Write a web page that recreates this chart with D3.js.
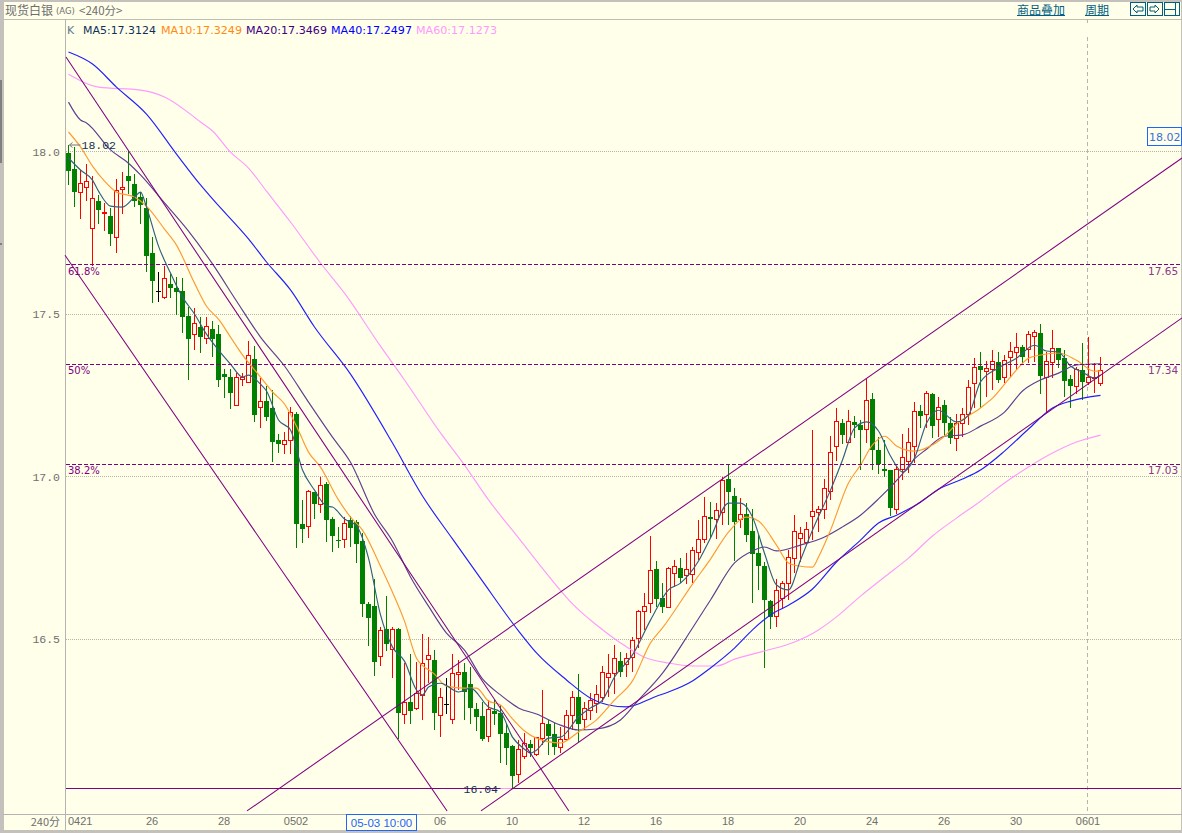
<!DOCTYPE html>
<html><head><meta charset="utf-8">
<script src="https://cdn.jsdelivr.net/npm/d3@7/dist/d3.min.js"></script>
<style>html,body{margin:0;padding:0;background:#ffffea;overflow:hidden}svg{display:block}</style>
</head><body><svg id="c" width="1182" height="833"></svg>
<script>
const highs=[18.020,18.014,17.943,17.962,17.925,17.866,17.842,17.826,17.915,17.937,18.001,17.931,17.875,17.857,17.737,17.629,17.648,17.623,17.614,17.611,17.521,17.518,17.491,17.491,17.478,17.466,17.331,17.331,17.318,17.318,17.417,17.401,17.303,17.278,17.266,17.131,17.137,17.214,17.198,16.928,16.958,16.952,16.998,16.983,16.875,16.845,16.875,16.878,16.866,16.826,16.614,16.684,16.537,16.632,16.537,16.534,16.426,16.454,16.429,16.515,16.506,16.466,16.349,16.380,16.454,16.435,16.426,16.414,16.303,16.306,16.312,16.312,16.297,16.241,16.174,16.189,16.211,16.189,16.198,16.343,16.251,16.241,16.229,16.281,16.340,16.392,16.306,16.334,16.358,16.417,16.454,16.481,16.460,16.457,16.506,16.589,16.641,16.817,16.740,16.672,16.721,16.743,16.749,16.764,16.783,16.866,16.937,16.921,16.918,16.998,17.035,16.964,16.934,16.918,16.900,16.820,16.737,16.620,16.684,16.678,16.774,16.881,16.845,16.860,17.143,16.909,16.992,17.124,17.211,17.177,17.204,17.186,17.174,17.300,17.257,17.121,17.112,17.020,17.032,17.131,17.149,17.229,17.220,17.263,17.257,17.244,17.235,17.183,17.192,17.211,17.297,17.364,17.383,17.355,17.389,17.383,17.374,17.414,17.441,17.404,17.448,17.451,17.469,17.383,17.451,17.395,17.389,17.312,17.337,17.411,17.429,17.349,17.368];
const lows=[17.897,17.829,17.792,17.848,17.648,17.777,17.755,17.709,17.688,17.808,17.869,17.829,17.777,17.629,17.534,17.537,17.546,17.549,17.497,17.441,17.297,17.389,17.380,17.408,17.368,17.275,17.241,17.208,17.220,17.278,17.288,17.168,17.149,17.171,17.044,17.072,17.069,17.069,16.780,16.795,16.811,16.869,16.888,16.798,16.768,16.780,16.780,16.783,16.734,16.568,16.478,16.386,16.417,16.463,16.380,16.192,16.238,16.238,16.281,16.251,16.365,16.220,16.198,16.269,16.238,16.343,16.251,16.238,16.217,16.186,16.183,16.235,16.118,16.112,16.041,16.057,16.131,16.137,16.140,16.174,16.143,16.143,16.149,16.189,16.220,16.183,16.220,16.251,16.272,16.306,16.321,16.331,16.383,16.383,16.398,16.472,16.528,16.580,16.598,16.580,16.598,16.660,16.672,16.669,16.672,16.743,16.795,16.811,16.808,16.851,16.851,16.740,16.841,16.798,16.611,16.651,16.411,16.531,16.537,16.592,16.620,16.703,16.737,16.789,16.804,16.829,16.869,16.928,17.048,17.100,17.103,17.118,17.020,17.103,17.020,17.008,16.998,16.878,16.884,16.989,17.011,17.041,17.149,17.149,17.118,17.121,17.124,17.100,17.078,17.121,17.158,17.211,17.211,17.244,17.266,17.288,17.288,17.306,17.328,17.349,17.349,17.352,17.254,17.195,17.303,17.334,17.244,17.211,17.254,17.235,17.281,17.257,17.278];
const opens=[17.995,17.946,17.875,17.891,17.764,17.848,17.811,17.801,17.737,17.884,17.925,17.900,17.860,17.826,17.688,17.571,17.552,17.592,17.580,17.571,17.494,17.438,17.460,17.426,17.454,17.438,17.315,17.306,17.220,17.300,17.291,17.361,17.214,17.232,17.211,17.112,17.100,17.112,17.192,16.854,16.848,16.952,16.915,16.977,16.869,16.804,16.808,16.866,16.860,16.801,16.608,16.601,16.448,16.531,16.469,16.531,16.269,16.306,16.288,16.328,16.438,16.435,16.266,16.300,16.254,16.392,16.398,16.361,16.284,16.263,16.201,16.278,16.272,16.211,16.171,16.084,16.140,16.177,16.146,16.195,16.238,16.208,16.168,16.192,16.266,16.321,16.254,16.281,16.303,16.321,16.383,16.395,16.432,16.423,16.444,16.503,16.586,16.611,16.715,16.626,16.598,16.703,16.718,16.697,16.700,16.768,16.808,16.875,16.869,16.891,16.992,16.940,16.869,16.884,16.832,16.764,16.724,16.617,16.571,16.626,16.672,16.749,16.811,16.798,16.878,16.891,16.900,16.955,17.094,17.164,17.106,17.168,17.158,17.146,17.238,17.082,17.023,17.020,16.900,17.023,17.048,17.094,17.201,17.192,17.254,17.177,17.220,17.164,17.118,17.164,17.192,17.288,17.340,17.324,17.331,17.352,17.306,17.368,17.383,17.398,17.392,17.432,17.441,17.306,17.352,17.395,17.364,17.300,17.278,17.328,17.291,17.303,17.288];
const closes=[17.940,17.875,17.903,17.909,17.857,17.820,17.814,17.746,17.881,17.891,17.909,17.848,17.835,17.678,17.601,17.571,17.611,17.580,17.568,17.491,17.423,17.472,17.429,17.463,17.423,17.297,17.306,17.257,17.306,17.306,17.374,17.189,17.232,17.183,17.106,17.100,17.112,17.198,16.854,16.838,16.955,16.915,16.974,16.866,16.817,16.801,16.857,16.841,16.792,16.608,16.564,16.429,16.528,16.484,16.531,16.272,16.306,16.278,16.334,16.426,16.451,16.272,16.321,16.300,16.395,16.398,16.337,16.288,16.260,16.192,16.284,16.269,16.208,16.164,16.078,16.161,16.180,16.164,16.198,16.241,16.201,16.168,16.192,16.266,16.321,16.238,16.288,16.312,16.331,16.398,16.395,16.441,16.398,16.441,16.497,16.586,16.601,16.712,16.623,16.598,16.718,16.724,16.688,16.715,16.774,16.808,16.878,16.869,16.897,16.989,16.952,16.860,16.884,16.820,16.761,16.724,16.620,16.568,16.651,16.672,16.752,16.832,16.826,16.838,16.894,16.900,16.964,17.075,17.171,17.128,17.171,17.158,17.143,17.235,17.082,17.038,17.017,16.903,17.023,17.060,17.106,17.201,17.186,17.257,17.155,17.214,17.164,17.118,17.164,17.192,17.275,17.337,17.328,17.334,17.355,17.297,17.358,17.386,17.398,17.368,17.438,17.444,17.309,17.355,17.395,17.358,17.294,17.278,17.331,17.291,17.306,17.306,17.328];

const ma60Idx=[0,5,12,16,22,24,27,30,33,37,42,46,52,56,62,66,70,75,80,84,88,92,96,100,104,108,111,116,121,125,128,132,136,140,144,148,152,156,160,164,168,172];
const ma60=[18.238,18.198,18.189,18.168,18.091,18.063,17.998,17.949,17.878,17.783,17.657,17.564,17.401,17.297,17.134,17.035,16.928,16.811,16.694,16.608,16.543,16.488,16.444,16.426,16.417,16.417,16.438,16.463,16.491,16.528,16.568,16.632,16.691,16.749,16.817,16.872,16.924,16.980,17.029,17.072,17.106,17.1273];
const ma40Idx=[0,4,8,13,18,22,24,30,33,37,41,47,54,59,64,69,75,78,83,87,90,93,98,100,104,107,111,114,117,120,124,128,132,135,138,142,145,149,152,156,160,164,167,172];
const ma40=[18.306,18.269,18.198,18.115,17.992,17.897,17.854,17.731,17.660,17.574,17.460,17.315,17.103,16.940,16.808,16.678,16.525,16.457,16.374,16.318,16.297,16.291,16.324,16.337,16.371,16.411,16.472,16.528,16.574,16.604,16.654,16.737,16.804,16.857,16.881,16.921,16.961,16.992,17.020,17.078,17.146,17.211,17.232,17.2497];
const ma20Idx=[0,2,3,7,10,12,16,20,24,28,32,36,40,44,47,51,54,57,60,63,66,69,72,75,78,82,85,88,92,95,99,104,107,111,114,116,118,122,126,129,132,135,139,141,143,146,149,152,156,159,162,165,168,172];
const ma20=[18.152,18.097,18.088,18.005,17.964,17.928,17.842,17.755,17.654,17.540,17.429,17.340,17.229,17.121,17.044,16.884,16.801,16.691,16.601,16.518,16.466,16.377,16.328,16.288,16.269,16.235,16.220,16.223,16.251,16.312,16.395,16.534,16.620,16.734,16.771,16.783,16.771,16.789,16.814,16.845,16.881,16.931,17.008,17.054,17.084,17.124,17.128,17.155,17.198,17.263,17.297,17.318,17.343,17.3469];
const ma10Idx=[0,2,4,6,8,11,13,16,18,21,23,25,27,29,32,34,36,38,40,42,45,47,49,52,54,56,58,61,63,66,68,70,72,74,76,78,82,85,88,91,94,97,99,104,107,110,113,115,118,120,122,124,125,127,130,132,134,136,138,141,143,146,148,152,154,157,160,162,165,168,171,172];
const ma10=[18.060,18.014,17.955,17.909,17.875,17.860,17.832,17.761,17.712,17.595,17.524,17.484,17.429,17.374,17.306,17.260,17.223,17.155,17.075,17.029,16.928,16.875,16.835,16.724,16.644,16.555,16.441,16.392,16.355,16.349,16.349,16.309,16.297,16.254,16.217,16.195,16.180,16.214,16.251,16.312,16.371,16.488,16.534,16.669,16.746,16.829,16.875,16.863,16.789,16.734,16.724,16.721,16.752,16.835,16.980,17.035,17.097,17.124,17.094,17.078,17.088,17.124,17.161,17.211,17.241,17.306,17.364,17.374,17.380,17.358,17.324,17.3249];
const ma5Idx=[0,2,4,5,7,9,11,12,13,15,17,19,21,23,25,27,29,30,32,33,35,37,39,41,43,44,46,48,50,52,54,56,58,59,60,62,65,67,70,72,74,76,77,78,80,82,85,87,89,91,94,97,100,102,105,107,110,112,114,116,118,120,122,124,127,129,131,133,135,137,139,141,143,145,148,150,152,155,158,161,163,165,167,169,171,172];
const ma5=[17.980,17.943,17.912,17.878,17.832,17.829,17.860,17.875,17.829,17.709,17.626,17.552,17.500,17.438,17.389,17.346,17.306,17.312,17.284,17.263,17.174,17.143,17.020,16.958,16.909,16.906,16.869,16.848,16.749,16.574,16.475,16.432,16.343,16.328,16.352,16.364,16.337,16.349,16.291,16.275,16.198,16.161,16.149,16.158,16.195,16.198,16.260,16.288,16.312,16.383,16.451,16.558,16.651,16.672,16.740,16.811,16.918,16.918,16.875,16.764,16.666,16.651,16.743,16.835,16.958,17.051,17.149,17.168,17.140,17.063,17.014,17.057,17.164,17.204,17.168,17.189,17.291,17.334,17.364,17.404,17.386,17.383,17.340,17.321,17.303,17.3124];

const maNames=["MA5","MA10","MA20","MA40","MA60"];
const maLabels=["17.3124","17.3249","17.3469","17.2497","17.1273"];
const maTextColors=["#12305a","#ff8a14","#400080","#0000ff","#ff99ff"];
const maLineColors=["#2f5f7f","#ff9a30","#5c3f90","#1f1fff","#ff99ff"];

const priceTicks=[18.0,17.5,17.0,16.5];
const timeTickIdx=[0,14,26,38,62,74,86,98,110,122,134,146,158,170];
const timeTickLabels=["0421","26","28","0502","06","10","12","16","18","20","24","26","30","0601"];
const fibValues=[17.652,17.345,17.037];
const fibPct=["61.8%","50%","38.2%"];
const fibRight=["17.65","17.34","17.03"];
const trendFrom=[[-0.42,18.291],[-0.58,17.681],[29.75,15.971],[68.75,15.971]];
const trendTo=[[83.4,15.971],[63.1,15.971],[185.6,17.980],[185.6,17.488]];
const lowPrice=16.04, highPrice=18.02, highIdx=0, lowIdx=74, crossIdx=170, crossLabelIdx=52;

const BG="#ffffea",FRAME="#c4c0bc",PURPLE="#800080",GREY="#6e6e6e",NAVY="#10305a",LINK="#005f85",BLUE="#1a66ff";
const MONO="'Liberation Mono',monospace",SANS="'DejaVu Sans',sans-serif",CJK="'Noto Sans CJK SC',sans-serif";

const svg=d3.select("#c");
const x=d3.scaleLinear().domain([0,172]).range([68.5,1100.5]);
const y=d3.scaleLinear().domain([18,16]).range([151.5,801.5]);
svg.append("rect").attr("width",1182).attr("height",833).attr("fill",BG);

// frame
const chrome=svg.append("g").attr("shape-rendering","crispEdges");
[[0,0,1182,1.5],[0,0,3.5,833],[0,830,1182,3],[1181,0,1,833]].forEach(r=>chrome.append("rect").attr("x",r[0]).attr("y",r[1]).attr("width",r[2]).attr("height",r[3]).attr("fill",FRAME));
chrome.append("rect").attr("x",0).attr("y",80).attr("width",2).attr("height",83).attr("fill","#808080");
chrome.append("rect").attr("x",0).attr("y",243).attr("width",2).attr("height",2).attr("fill","#808080");
chrome.append("line").attr("x1",3).attr("x2",1182).attr("y1",19.5).attr("y2",19.5).attr("stroke","#bdbdb8");
chrome.append("line").attr("x1",3).attr("x2",1182).attr("y1",814.5).attr("y2",814.5).attr("stroke","#b4b4b4");
chrome.append("line").attr("x1",65.5).attr("x2",65.5).attr("y1",19).attr("y2",830).attr("stroke","#b4b4b4");

// grid
const gridG=svg.append("g").attr("shape-rendering","crispEdges");
gridG.selectAll("line").data(priceTicks).join("line")
 .attr("x1",66).attr("x2",1181).attr("y1",d=>Math.floor(y(d))+.5).attr("y2",d=>Math.floor(y(d))+.5)
 .attr("stroke","#b5b5a8").attr("stroke-dasharray","1,1");
[[19,23],[37,814]].forEach(s=>gridG.append("line").attr("x1",Math.floor(x(crossIdx))-.5).attr("x2",Math.floor(x(crossIdx))-.5).attr("y1",s[0]).attr("y2",s[1]).attr("stroke","#b4b4b4").attr("stroke-dasharray","4,3"));

// axes
const ya=svg.append("g").attr("transform","translate(65,0)").call(d3.axisLeft(y).tickValues(priceTicks).tickFormat(d3.format(".1f")).tickSize(0).tickPadding(5));
ya.select(".domain").remove();
ya.selectAll("text").attr("font-family",MONO).attr("font-size",11.5).attr("fill",GREY);
const xa=svg.append("g").attr("transform","translate(0,814)").call(d3.axisBottom(x).tickValues(timeTickIdx).tickFormat((d,i)=>timeTickLabels[i]).tickSize(0).tickPadding(3));
xa.select(".domain").remove();
xa.selectAll("text").attr("font-family","'Liberation Sans',sans-serif").attr("font-size",11).attr("fill",GREY).attr("text-anchor",(d,i)=>i===0?"start":"middle").attr("dx",(d,i)=>i===0?-1:-1);
svg.append("text").attr("x",60).attr("y",826).attr("text-anchor","end").attr("font-family",CJK).attr("font-size",11).attr("fill",GREY).text("240分");

// candles
const idx=d3.range(highs.length);
const candle=svg.append("g").attr("shape-rendering","crispEdges");
const col=i=>closes[i]>opens[i]?"#ff0000":closes[i]<opens[i]?"#008000":"#000000";
candle.selectAll("line.w").data(idx).join("line").attr("class","w")
 .attr("x1",i=>x(i)).attr("x2",i=>x(i)).attr("y1",i=>y(highs[i])).attr("y2",i=>y(lows[i])).attr("stroke",col).attr("stroke-width",1);
candle.selectAll("rect.b").data(idx).join("rect").attr("class","b")
 .attr("x",i=>closes[i]>opens[i]?x(i)-2:x(i)-2.5)
 .attr("width",i=>closes[i]>opens[i]?4:5)
 .attr("y",i=>Math.round(y(Math.max(opens[i],closes[i])))+(closes[i]>opens[i]?.5:0))
 .attr("height",i=>Math.max(1,Math.round(y(Math.min(opens[i],closes[i])))-Math.round(y(Math.max(opens[i],closes[i])))))
 .attr("fill",i=>closes[i]>opens[i]?BG:col(i))
 .attr("stroke",i=>closes[i]>opens[i]?"#ff0000":"none").attr("stroke-width",1);

// moving averages
const lineGen=d3.line().x(d=>x(d[0])).y(d=>y(d[1])).curve(d3.curveMonotoneX);
[[ma60Idx,ma60,4],[ma40Idx,ma40,3],[ma20Idx,ma20,2],[ma10Idx,ma10,1],[ma5Idx,ma5,0]].forEach(([ix,vals,k])=>{
 svg.append("path").datum(ix.map((d,i)=>[d,vals[i]])).attr("d",lineGen).attr("fill","none").attr("stroke",maLineColors[k]).attr("stroke-width",1.15);
});

// trend lines and levels
const ann=svg.append("g");
ann.selectAll("line.t").data(trendFrom).join("line").attr("class","t")
 .attr("x1",d=>x(d[0])).attr("y1",d=>y(d[1])).attr("x2",(d,i)=>x(trendTo[i][0])).attr("y2",(d,i)=>y(trendTo[i][1]))
 .attr("stroke",PURPLE).attr("stroke-width",1.05);
ann.selectAll("line.f").data(fibValues).join("line").attr("class","f")
 .attr("x1",66).attr("x2",1181).attr("y1",d=>Math.floor(y(d))+.5).attr("y2",d=>Math.floor(y(d))+.5)
 .attr("stroke",PURPLE).attr("stroke-dasharray","4,2").attr("shape-rendering","crispEdges");
ann.append("line").attr("x1",66).attr("x2",1181).attr("y1",Math.floor(y(lowPrice))+.5).attr("y2",Math.floor(y(lowPrice))+.5).attr("stroke",PURPLE).attr("shape-rendering","crispEdges");
ann.selectAll("text.p").data(fibValues).join("text").attr("class","p").attr("x",68).attr("y",d=>y(d)+10).attr("font-family",SANS).attr("font-size",10).attr("fill",PURPLE).text((d,i)=>fibPct[i]);
ann.selectAll("text.r").data(fibValues).join("text").attr("class","r").attr("x",1148).attr("y",d=>y(d)+10).attr("font-family",SANS).attr("font-size",10.5).attr("fill","#8a3a8a").text((d,i)=>fibRight[i]);

// extreme markers
const hy=y(highPrice),ly=y(lowPrice);
ann.append("path").attr("d",`M${x(highIdx)+1},${hy} H${x(highIdx)+12} M${x(highIdx)+4},${hy-2.5} L${x(highIdx)+1},${hy} L${x(highIdx)+4},${hy+2.5}`).attr("fill","none").attr("stroke","#777");
ann.append("text").attr("x",x(highIdx)+13).attr("y",hy+4).attr("font-family",MONO).attr("font-size",11.5).attr("fill",NAVY).text(highPrice.toFixed(2));
ann.append("line").attr("x1",x(lowIdx)-12).attr("x2",x(lowIdx)-1).attr("y1",Math.floor(ly)+.5).attr("y2",Math.floor(ly)+.5).attr("stroke","#ff99ff");
ann.append("text").attr("x",x(lowIdx)-49).attr("y",ly+4).attr("font-family",MONO).attr("font-size",11.5).attr("fill",NAVY).text(lowPrice.toFixed(2));

// legend
svg.append("text").attr("x",67).attr("y",33.5).attr("font-family",SANS).attr("font-size",11).attr("fill","#5a7a90").text("K");
const legendX=[83,161,246,331,416],legendW=[73,81,81,81,81];
maNames.forEach((n,i)=>svg.append("text").attr("x",legendX[i]).attr("y",33.5).attr("font-family",SANS).attr("font-size",11)
 .attr("textLength",legendW[i]).attr("lengthAdjust","spacingAndGlyphs").attr("fill",maTextColors[i]).text(n+":"+maLabels[i]));

// title bar
svg.append("text").attr("x",5).attr("y",15).attr("font-family",CJK).attr("font-size",12).attr("fill",GREY).text("现货白银");
svg.append("text").attr("x",56).attr("y",14).attr("font-family",SANS).attr("font-size",8.5).attr("fill",GREY).text("(AG)");
svg.append("text").attr("x",79).attr("y",14.5).attr("font-family",CJK).attr("font-size",11.5).attr("fill",GREY).text("<240分>");
[["商品叠加",1017,48],["周期",1085,24]].forEach(([t,tx,w])=>{
 svg.append("text").attr("x",tx).attr("y",15).attr("font-family",CJK).attr("font-size",12).attr("fill",LINK).text(t);
 chrome.append("line").attr("x1",tx).attr("x2",tx+w).attr("y1",15.5).attr("y2",15.5).attr("stroke",LINK);
});
const icons=svg.append("g").attr("fill","none").attr("stroke",LINK).attr("shape-rendering","crispEdges");
[1130,1147,1164].forEach(b=>icons.append("rect").attr("x",b+.5).attr("y",2.5).attr("width",15).attr("height",13));
svg.append("path").attr("d","M1133,9 L1137,5 V7 H1143 V11 H1137 V13 Z M1159,9 L1155,5 V7 H1150 V11 H1155 V13 Z").attr("fill","none").attr("stroke",LINK);
icons.append("path").attr("d","M1164,9.5 H1175 M1175.5,2 V16");

// value tags
svg.append("rect").attr("x",1147.5).attr("y",127.5).attr("width",34).attr("height",18).attr("fill",BG).attr("stroke",BLUE).attr("shape-rendering","crispEdges");
svg.append("text").attr("x",1149).attr("y",140.5).attr("font-family",SANS).attr("font-size",11).attr("fill","#3a6ee0").text(highPrice.toFixed(2));
const lx=x(crossLabelIdx);
svg.append("rect").attr("x",346.5).attr("y",814.5).attr("width",70).attr("height",16).attr("fill",BG).attr("stroke",BLUE).attr("shape-rendering","crispEdges");
svg.append("text").attr("x",lx+1).attr("y",827).attr("text-anchor","middle").attr("font-family","'Liberation Sans',sans-serif").attr("font-size",11.5).attr("fill",BLUE).text("05-03 10:00");
</script></body></html>
